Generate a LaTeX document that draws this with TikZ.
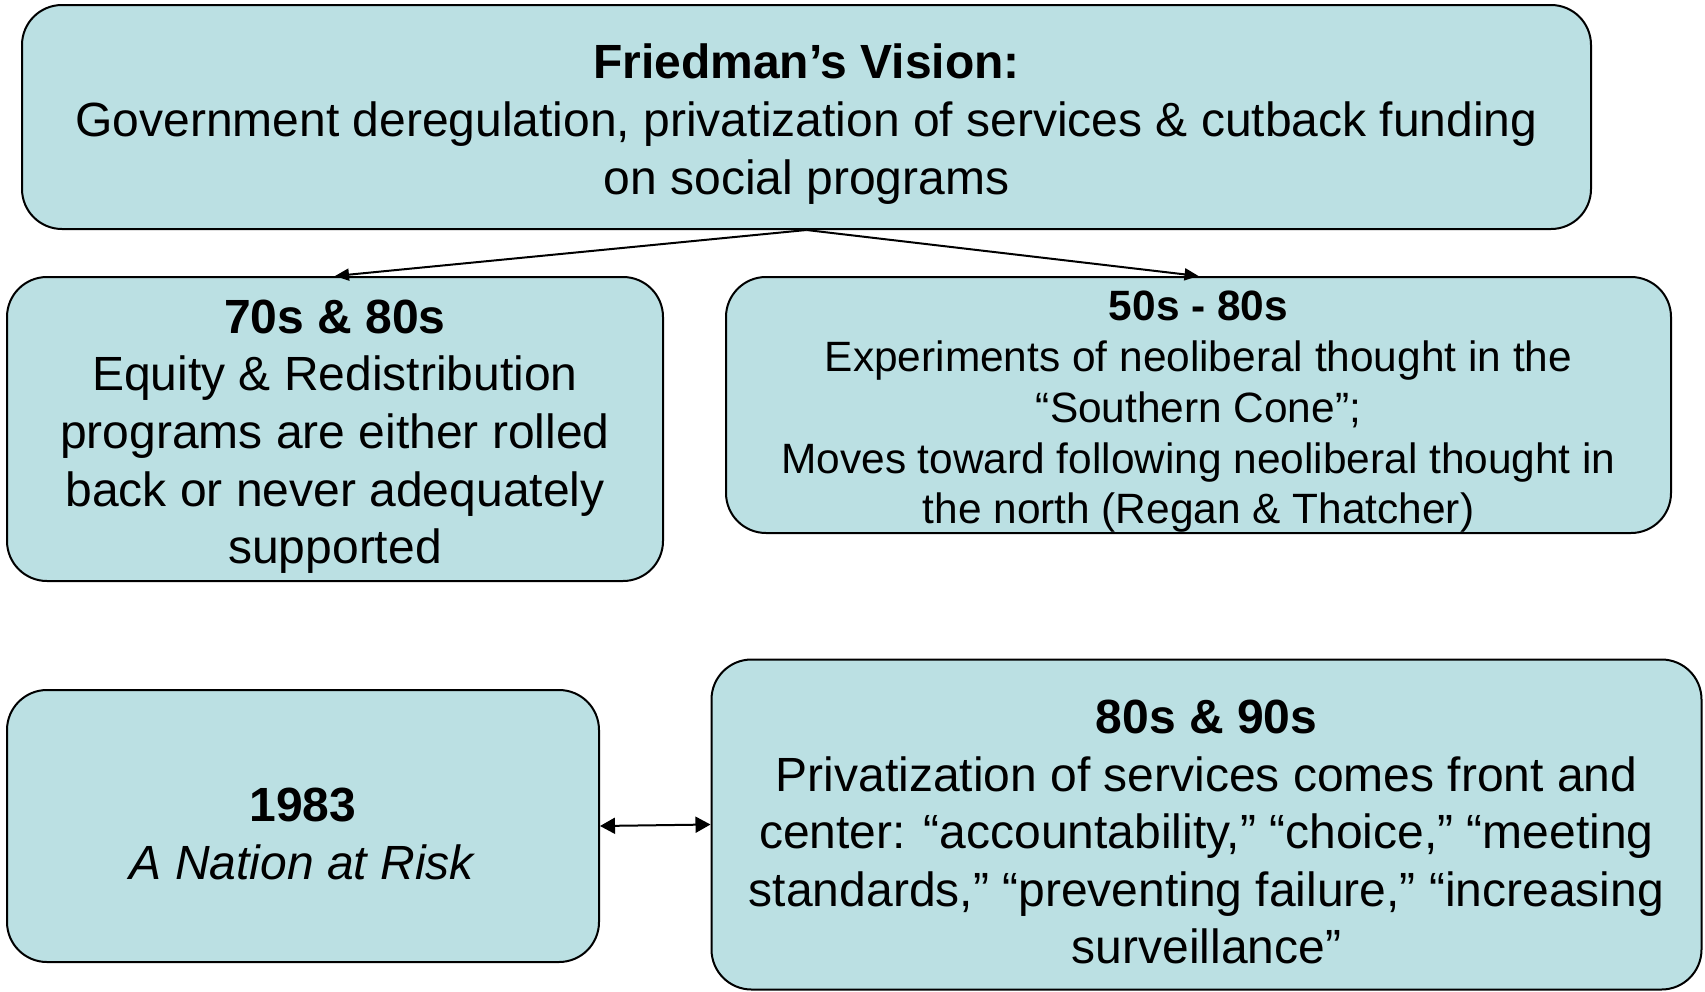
\documentclass[tikz,border=0pt]{standalone}
\usepackage{fontspec}
\setmainfont{Liberation Sans}
\usetikzlibrary{arrows.meta}
\definecolor{boxfill}{HTML}{BBE0E3}
\newcommand{\topstrut}{\rule{0pt}{1.02em}}
\tikzset{
  box/.style={draw=black, line width=2pt, fill=boxfill, rounded corners=40pt,
    align=center, inner sep=0pt, font=\fontsize{48}{57.6}\selectfont},
  smallbox/.style={box, font=\fontsize{42.4}{50.8}\selectfont},
  conn/.style={line width=2pt, -{Triangle[length=14pt,width=12pt]}},
  dconn/.style={line width=2pt, {Triangle[length=15pt,width=16pt]}-{Triangle[length=15pt,width=16pt]}}
}
\begin{document}
\begin{tikzpicture}[x=1pt,y=-1pt]
\useasboundingbox (0,0) rectangle (1705,991);
\node[box, minimum width=1569pt, minimum height=224pt] (top) at (806.5,117)
  {\topstrut\textbf{Friedman’s Vision:}\\Government deregulation, privatization of services \& cutback funding\\on social programs};
\node[box, minimum width=656pt, minimum height=304pt] (lm) at (335,429)
  {\topstrut\textbf{70s \& 80s}\\Equity \& Redistribution\\programs are either rolled\\back or never adequately\\supported};
\node[smallbox, minimum width=945pt, minimum height=256pt] (rm) at (1198.5,405)
  {\topstrut\textbf{50s - 80s}\\Experiments of neoliberal thought in the\\“Southern Cone”;\\Moves toward following neoliberal thought in\\the north (Regan \& Thatcher)};
\node[box, minimum width=592pt, minimum height=272pt] (bl) at (303,826)
  {\topstrut\textbf{1983}\\\textit{A Nation at Risk}};
\node[box, minimum width=990pt, minimum height=330pt] (br) at (1206.5,824.5)
  {\topstrut\textbf{80s \& 90s}\\Privatization of services comes front and\\center: “accountability,” “choice,” “meeting\\standards,” “preventing failure,” “increasing\\surveillance”};
\draw[conn] (top.south) -- (lm.north);
\draw[conn] (top.south) -- (rm.north);
\draw[dconn] (bl.east) -- (br.west);
\end{tikzpicture}
\end{document}
